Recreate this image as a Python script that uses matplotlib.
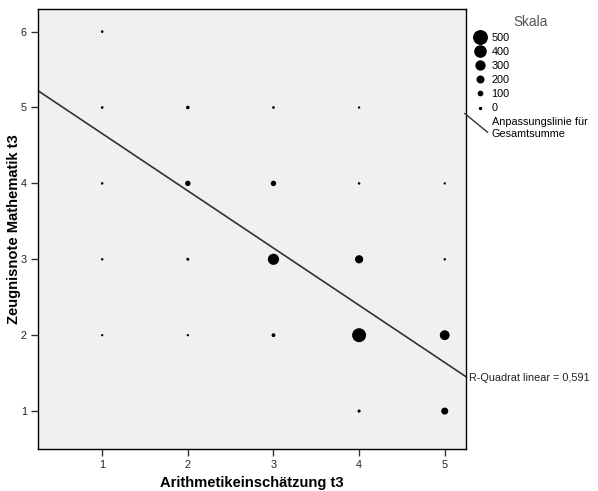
import matplotlib
matplotlib.use("Agg")
import matplotlib.pyplot as plt
from matplotlib.lines import Line2D
from matplotlib.legend_handler import HandlerBase

plt.rcParams['font.family'] = ['Liberation Sans', 'DejaVu Sans']

# counts per (Arithmetikeinschaetzung, Zeugnisnote) cell
x_vals = [1, 1, 2, 3, 4,
          1, 2, 3, 4, 5,
          1, 2, 3, 4, 5,
          1, 2, 3, 4, 5,
          4, 5]
y_vals = [6, 5, 5, 5, 5,
          4, 4, 4, 4, 4,
          3, 3, 3, 3, 3,
          2, 2, 2, 2, 2,
          1, 1]
counts = [30, 30, 70, 30, 15,
          25, 150, 150, 25, 15,
          20, 45, 400, 270, 20,
          15, 15, 80, 520, 340,
          50, 220]

legend_counts = [500, 400, 300, 200, 100, 0]
fit_slope = -0.754
fit_intercept = 5.41
r2_text = "R-Quadrat linear = 0,591"

DPI = 100


def diam_pt(c):
    # diameter in px grows linearly with count, returned in points
    return (2 + 0.023 * c) * 72 / DPI


fig = plt.figure(figsize=(5.98, 4.91), dpi=DPI)
ax = fig.add_axes([0.0635, 0.0855, 0.716, 0.8965])
ax.set_facecolor('#f0f0f0')

ax.scatter(x_vals, y_vals, s=[diam_pt(c) ** 2 for c in counts], c='black',
           edgecolors='none', zorder=3)
ax.axline((0, fit_intercept), slope=fit_slope, color='#333333', lw=1.2,
          zorder=2)

ax.set_xlim(0.25, 5.25)
ax.set_ylim(0.5, 6.3)
ax.set_xticks([1, 2, 3, 4, 5])
ax.set_yticks([1, 2, 3, 4, 5, 6])
ax.tick_params(direction='out', length=5, width=1, color='#333333',
               labelsize=7.8, labelcolor='#222222', pad=3)
for sp in ax.spines.values():
    sp.set_color('black')
    sp.set_linewidth(1)

ax.set_xlabel('Arithmetikeinschätzung t3', fontsize=10.6, fontweight='bold',
              labelpad=4)
ax.set_ylabel('Zeugnisnote Mathematik t3', fontsize=10.6, fontweight='bold')
ax.yaxis.set_label_coords(-0.04, 0.5)


class DiagHandler(HandlerBase):
    def create_artists(self, legend, orig_handle, xdescent, ydescent,
                       width, height, fontsize, trans):
        ln = Line2D([-6, width + 1], [height + 8, 0], color='#333333', lw=1)
        ln.set_transform(trans)
        return [ln]


handles = [Line2D([], [], ls='none', marker='o', color='black',
                  markersize=diam_pt(c)) for c in legend_counts]
labels = [str(c) for c in legend_counts]
handles.append(Line2D([], [], color='#333333'))
labels.append('Anpassungslinie für\nGesamtsumme')

leg = fig.legend(handles, labels, loc='upper left',
                 bbox_to_anchor=(0.775, 0.99), frameon=False,
                 fontsize=7.8, title='Skala', title_fontsize=9.8,
                 handlelength=1.2, handletextpad=0.5, labelspacing=0.38,
                 handler_map={handles[-1]: DiagHandler()})
leg.get_title().set_color('#555555')

fig.text(0.785, 0.23, r2_text, fontsize=7.8, color='#222222', va='center')

fig.savefig('out.png', dpi=DPI)
